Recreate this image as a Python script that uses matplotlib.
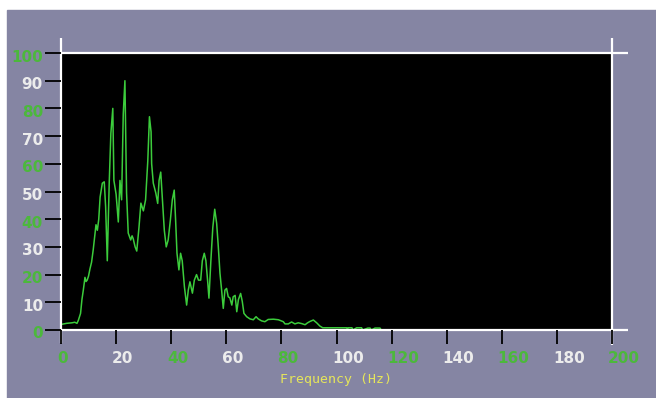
"""Spectrum trace on a black panel, old instrument-style frame."""

import matplotlib

matplotlib.use("Agg")
import matplotlib.pyplot as plt
import matplotlib.transforms as mtransforms
from matplotlib.patches import Rectangle

# frequency axis (Hz) and amplitude
FREQ_HZ = [
    0.0, 1.0, 2.0, 3.0, 4.0, 5.0, 5.8, 6.3, 7.1, 7.6,
    8.1, 8.7, 9.1, 9.5, 10.0, 10.5, 11.1, 11.7, 12.2, 12.7,
    13.2, 13.7, 14.2, 15.0, 15.7, 16.2, 16.8, 17.5, 18.1, 18.8,
    19.2, 20.0, 20.4, 20.8, 21.4, 22.0, 22.6, 23.2, 23.8, 24.4,
    25.3, 25.8, 26.2, 26.9, 27.5, 28.3, 29.0, 29.9, 30.7, 31.5,
    32.1, 32.7, 32.9, 33.5, 34.4, 35.1, 35.6, 36.2, 36.8, 37.5,
    38.2, 38.9, 39.7, 40.4, 41.1, 41.6, 42.1, 42.8, 43.4, 44.0,
    44.8, 45.6, 46.2, 46.8, 47.7, 48.4, 49.2, 49.9, 50.7, 51.3,
    52.0, 52.6, 53.2, 53.7, 54.4, 55.1, 55.8, 56.5, 57.1, 57.7,
    58.3, 58.9, 59.5, 60.1, 60.7, 61.3, 62.0, 62.5, 63.2, 63.8,
    64.4, 65.2, 65.8, 66.4, 67.4, 68.6, 69.8, 70.8, 71.6, 72.8,
    74.0, 75.2, 77.1, 78.9, 80.7, 81.3, 82.5, 83.7, 84.9, 86.1,
    87.4, 88.6, 89.5, 90.4, 91.6, 92.8, 94.0, 95.0, 103.7, 104.0,
    104.2, 105.6, 106.0, 107.3, 109.1, 109.5, 111.4, 112.2, 112.6, 114.0,
    115.8, 116.2,
]
AMPLITUDE = [
    2.0, 2.2, 2.4, 2.5, 2.6, 2.8, 2.4, 3.5, 6.0, 11.0,
    14.4, 19.0, 17.5, 18.0, 19.5, 22.0, 24.5, 29.0, 33.5, 38.0,
    36.0, 40.0, 48.0, 53.0, 53.5, 44.5, 25.0, 53.0, 71.0, 80.0,
    54.0, 49.0, 44.0, 39.0, 54.0, 47.0, 78.0, 90.0, 49.5, 35.0,
    32.5, 34.0, 33.0, 30.0, 28.5, 37.0, 45.8, 43.0, 47.0, 61.0,
    77.0, 71.5, 60.0, 53.0, 49.5, 45.7, 54.0, 57.0, 47.0, 36.0,
    30.0, 32.5, 39.7, 47.0, 50.5, 39.7, 27.7, 21.7, 27.7, 25.0,
    15.6, 9.0, 14.4, 17.4, 13.3, 18.0, 20.0, 18.0, 18.0, 25.0,
    27.7, 25.0, 18.0, 11.5, 25.0, 37.0, 43.6, 38.5, 30.0, 20.5,
    14.4, 7.8, 14.4, 15.0, 12.0, 11.6, 9.0, 12.0, 12.5, 6.6,
    11.0, 13.2, 10.3, 6.0, 4.8, 4.0, 3.7, 4.8, 4.0, 3.3,
    3.0, 3.8, 3.9, 3.7, 3.0, 2.2, 2.2, 2.9, 2.2, 2.6,
    2.3, 1.9, 2.6, 3.1, 3.6, 2.6, 1.4, 0.8, 0.8, 0.0,
    0.8, 0.8, 0.0, 0.8, 0.8, 0.0, 0.7, 0.7, 0.0, 0.7,
    0.7, 0.0,
]

X_TICKS = [0, 20, 40, 60, 80, 100, 120, 140, 160, 180, 200]
Y_TICKS = [0, 10, 20, 30, 40, 50, 60, 70, 80, 90, 100]
X_LABEL = "Frequency (Hz)"

BG = "#8585a3"
TRACE = "#3ccc3c"
GREEN_TXT = "#4cb83c"
WHITE_TXT = "#ececec"
YELLOW_TXT = "#e6e65a"

W, H = 656, 398


def main() -> None:
    fig = plt.figure(figsize=(W / 100, H / 100), dpi=100, facecolor="white")
    fig.patches.append(
        Rectangle((7 / W, 0), 1, (H - 10) / H, transform=fig.transFigure,
                  color=BG, zorder=-10)
    )
    ax = fig.add_axes([61 / W, 68 / H, 551 / W, 277 / H])
    ax.set_facecolor("black")
    ax.set_axisbelow(False)
    ax.plot(FREQ_HZ, AMPLITUDE, color=TRACE, lw=1.1, zorder=2)
    ax.set_xlim(0, 200)
    ax.set_ylim(0, 100)
    for s in ax.spines.values():
        s.set_visible(False)

    # white frame that overshoots the panel corners
    frame = dict(color="white", lw=1.6, clip_on=False, zorder=2.4,
                 solid_capstyle="butt")
    ax.plot([0, 0], [-4.7, 105.4], **frame)
    ax.plot([200, 200], [-5.4, 105.4], **frame)
    ax.plot([0, 205.8], [100, 100], **frame)
    ax.plot([0, 205.8], [0, 0], **frame)

    ax.set_xticks(X_TICKS)
    ax.set_yticks(Y_TICKS)
    ax.tick_params(axis="y", direction="out", length=11.5, width=1.3, pad=1.5)
    ax.tick_params(axis="x", direction="out", length=10, width=1.3, pad=5)

    dx = mtransforms.ScaledTranslation(-4 / 100, 0, fig.dpi_scale_trans)
    dy = mtransforms.ScaledTranslation(0, -2.5 / 100, fig.dpi_scale_trans)
    for i, tick in enumerate(ax.xaxis.get_major_ticks()):
        c = GREEN_TXT if i % 2 == 0 else WHITE_TXT
        tick.tick1line.set_color(c)
        tick.label1.set_color(c)
        tick.label1.set_horizontalalignment("left")
        tick.label1.set_transform(tick.label1.get_transform() + dx)
    for i, tick in enumerate(ax.yaxis.get_major_ticks()):
        c = GREEN_TXT if i % 2 == 0 else WHITE_TXT
        tick.tick1line.set_color(c)
        tick.label1.set_color(c)
        tick.label1.set_transform(tick.label1.get_transform() + dy)
    for lab in ax.get_xticklabels() + ax.get_yticklabels():
        lab.set_fontsize(11)
        lab.set_fontweight("bold")

    fig.text(336 / W, 1 - 380 / H, X_LABEL, ha="center", va="center",
             family="DejaVu Sans Mono", fontsize=9.5, color=YELLOW_TXT)

    fig.savefig("out.png", dpi=100, facecolor=fig.get_facecolor())


if __name__ == "__main__":
    main()
